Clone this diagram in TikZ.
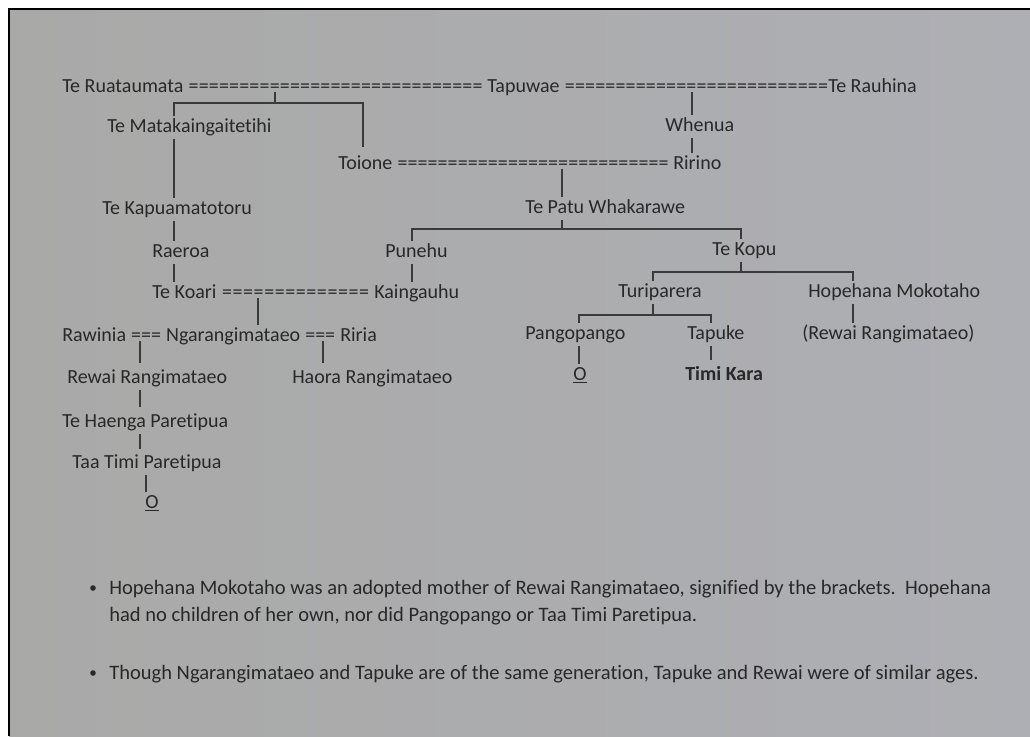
\documentclass[tikz,border=0pt]{standalone}
\usepackage{fontspec}
\setmainfont[Ligatures=NoCommon]{Carlito}
\usetikzlibrary{calc}
\definecolor{paperL}{RGB}{169,169,168}
\definecolor{paperR}{RGB}{174,175,180}
\definecolor{ink}{RGB}{40,40,40}
\definecolor{wire}{RGB}{58,58,58}
\newcommand\treefont{\fontsize{15}{18}\selectfont}
\newcommand\notefont{\fontsize{15.4}{18}\selectfont}
% #1 name, #2 left node, #3 right node, #4 gap before right node
\newcommand\eqrun[4]{%
  \path let \p1=(#2.base east), \p2=(#3.base west), \n1={\x2-\x1-3.4pt-#4} in
    node[eqs] (#1) at (\x1+3.4pt,\y1) {\hbox to \n1{\xleaders\hbox{=}\hfill}};}
\tikzset{
  nm/.style={inner xsep=0pt, inner ysep=2pt, anchor=base west, text=ink, font=\treefont, text height=10pt, text depth=3pt},
  eqs/.style={inner sep=0pt, anchor=base west, text=ink, font=\treefont},
  ln/.style={draw=wire, line width=1pt},
  note/.style={inner sep=0pt, anchor=base west, text=ink, font=\notefont},
}
\begin{document}
\begin{tikzpicture}[x=0.75pt,y=-0.75pt]
\useasboundingbox (0,0) rectangle (1030,736);
\fill[white] (0,0) rectangle (1030,736);
\shade[left color=paperL, right color=paperR] (9,9) rectangle (1030,736);
\draw[black, line width=1.5pt] (9,736) -- (9,9) -- (1030,9);

% names
\node[nm] (ruataumata) at (62,92) {Te Ruataumata};
\node[nm] (tapuwae) at (487,92) {Tapuwae};
\node[nm] (rauhina) at (828,92) {Te Rauhina};
\node[nm] (matak) at (107,132) {Te Matakaingaitetihi};
\node[nm] (whenua) at (665,131) {Whenua};
\node[nm] (toione) at (338,169) {Toione};
\node[nm] (ririno) at (673,169) {Ririno};
\node[nm] (kapua) at (102,214) {Te Kapuamatotoru};
\node[nm] (tepatu) at (525,213) {Te Patu Whakarawe};
\node[nm] (raeroa) at (152,257) {Raeroa};
\node[nm] (punehu) at (385,257) {Punehu};
\node[nm] (tekopu) at (712,255) {Te Kopu};
\node[nm] (tekoari) at (152,298) {Te Koari};
\node[nm] (kaingauhu) at (374,298) {Kaingauhu};
\node[nm] (turiparera) at (618,297) {Turiparera};
\node[nm] (hopehana) at (808,297) {Hopehana Mokotaho};
\node[nm] (rawinia) at (62,341) {Rawinia};
\node[eqs] (m5) at ([xshift=3.4pt]rawinia.base east) {===};
\node[nm] (ngarangi) at ([xshift=3.4pt]m5.base east) {Ngarangimataeo};
\node[eqs] (m6) at ([xshift=3.4pt]ngarangi.base east) {===};
\node[nm] (riria) at ([xshift=3.4pt]m6.base east) {Riria};
\node[nm] (pango) at (525,339) {Pangopango};
\node[nm] (tapuke) at (687,339) {Tapuke};
\node[nm] (rewaiB) at (802,339) {(Rewai Rangimataeo)};
\node[nm] (rewai) at (67,383) {Rewai Rangimataeo};
\node[nm] (haora) at (292,383) {Haora Rangimataeo};
\node[nm] (oP) at (573,380) {\underline{O}};
\node[nm] (timikara) at (685,380) {\textbf{Timi Kara}};
\node[nm] (haenga) at (62,427) {Te Haenga Paretipua};
\node[nm] (taa) at (72,468) {Taa Timi Paretipua};
\node[nm] (oT) at (145,508) {\underline{O}};

% marriage runs
\eqrun{m1}{ruataumata}{tapuwae}{3.4pt}
\eqrun{m2}{tapuwae}{rauhina}{0pt}
\eqrun{m3}{toione}{ririno}{3.4pt}
\eqrun{m4}{tekoari}{kaingauhu}{3.4pt}

% junctions
\coordinate (colA) at (174,0);
\coordinate (b1m) at (275,103);
\coordinate (b1l) at (174,103);
\coordinate (b1r) at (363,103);
\coordinate (colW) at (692,0);
\coordinate (colP) at (562,0);
\coordinate (b2m) at (562,229);
\coordinate (b2l) at (412,229);
\coordinate (b2r) at (741,229);
\coordinate (colK) at (258,0);
\coordinate (b3m) at (741,272);
\coordinate (b3l) at (653,272);
\coordinate (b3r) at (853,272);
\coordinate (b4l) at (579,315);
\coordinate (b4r) at (711,315);
\coordinate (colR) at (140,0);
\coordinate (colH) at (323,0);
\coordinate (colT) at (146,0);

% connectors
\draw[ln] (m1.south -| b1m) -- (b1m);
\draw[ln, shorten >=4.5pt] (b1l |- matak.north) -- (b1l) -- (b1r) -- (b1r |- toione.north);
\draw[ln] (colA |- matak.south) -- (colA |- kapua.north);
\draw[ln] (colA |- kapua.south) -- (colA |- raeroa.north);
\draw[ln] (colA |- raeroa.south) -- (colA |- tekoari.north);
\draw[ln] (m2.south -| colW) -- (colW |- whenua.north);
\draw[ln] (colW |- whenua.south) -- (colW |- ririno.north);
\draw[ln] (m3.south -| colP) -- (colP |- tepatu.north);
\draw[ln] (colP |- tepatu.south) -- (b2m);
\draw[ln] (b2l |- punehu.north) -- (b2l) -- (b2r) -- (b2r |- tekopu.north);
\draw[ln] (b2l |- punehu.south) -- (b2l |- kaingauhu.north);
\draw[ln] (m4.south -| colK) -- (colK |- ngarangi.north);
\draw[ln] (b2r |- tekopu.south) -- (b3m);
\draw[ln] (b3l |- turiparera.north) -- (b3l) -- (b3r) -- (b3r |- hopehana.north);
\draw[ln] (b3l |- turiparera.south) -- (b3l |- b4l);
\draw[ln] (b4l |- pango.north) -- (b4l) -- (b4r) -- (b4r |- tapuke.north);
\draw[ln] (b3r |- hopehana.south) -- (b3r |- rewaiB.north);
\draw[ln] (b4l |- pango.south) -- (b4l |- oP.north);
\draw[ln, shorten >=3pt] (b4r |- tapuke.south) -- (b4r |- timikara.north);
\draw[ln, shorten >=3pt] (m5.south -| colR) -- (colR |- rewai.north);
\draw[ln, shorten >=3pt] (m6.south -| colH) -- (colH |- haora.north);
\draw[ln, shorten >=3pt] (colR |- rewai.south) -- (colR |- haenga.north);
\draw[ln, shorten >=2pt] (colR |- haenga.south) -- (colR |- taa.north);
\draw[ln] (colT |- taa.south) -- (colT |- oT.north);

% notes
\fill[ink] (93,588) circle (2.8);
\node[note] (n1a) at (109,594) {Hopehana Mokotaho was an adopted mother of Rewai Rangimataeo, signified by the brackets.\ \ Hopehana};
\node[note] (n1b) at (109,621) {had no children of her own, nor did Pangopango or Taa Timi Paretipua.};
\fill[ink] (93,673) circle (2.8);
\node[note] (n2) at (109,679) {Though Ngarangimataeo and Tapuke are of the same generation, Tapuke and Rewai were of similar ages.};
\end{tikzpicture}
\end{document}
